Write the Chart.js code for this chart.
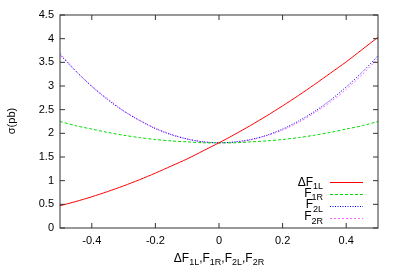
<!DOCTYPE html>
<html>
<head>
<meta charset="utf-8">
<script src="https://cdn.jsdelivr.net/npm/chart.js@4/dist/chart.umd.min.js"></script>
<style>
  body { margin: 0; background: #fff; }
  #wrap { width: 400px; height: 280px; }
</style>
</head>
<body>
<div id="wrap"><canvas id="myChart" width="400" height="280"></canvas></div>
<script>
// values
const xs = [-0.5, -0.45, -0.4, -0.35, -0.3, -0.25, -0.2, -0.15, -0.1, -0.05, 0,
            0.05, 0.1, 0.15, 0.2, 0.25, 0.3, 0.35, 0.4, 0.45, 0.5]
const dF1L = [0.47, 0.56, 0.66, 0.77, 0.89, 1.02, 1.16, 1.31, 1.46, 1.63, 1.80,
              1.98, 2.17, 2.37, 2.58, 2.80, 3.03, 3.27, 3.51, 3.77, 4.03]
const F1R = [2.25, 2.16, 2.09, 2.02, 1.96, 1.91, 1.87, 1.84, 1.82, 1.80, 1.80,
             1.80, 1.82, 1.84, 1.87, 1.91, 1.96, 2.02, 2.09, 2.16, 2.25]
const F2L = [3.66, 3.31, 2.99, 2.71, 2.47, 2.27, 2.10, 1.97, 1.88, 1.82, 1.80,
             1.82, 1.87, 1.96, 2.09, 2.26, 2.46, 2.70, 2.98, 3.29, 3.64]
const F2R = [3.69, 3.32, 3.00, 2.73, 2.48, 2.28, 2.11, 1.98, 1.88, 1.82, 1.80,
             1.81, 1.86, 1.95, 2.07, 2.23, 2.43, 2.66, 2.93, 3.24, 3.58]
const xTicks = [-0.4, -0.2, 0, 0.2, 0.4]
const yTicks = [0, 0.5, 1, 1.5, 2, 2.5, 3, 3.5, 4, 4.5]

// label pieces: [main, subscript]
const seriesNames = [
    [["\u0394F", "1L"]],
    [["F", "1R"]],
    [["F", "2L"]],
    [["F", "2R"]]
]
const xTitle = [["\u0394F", "1L"], [",F", "1R"], [",F", "2L"], [",F", "2R"]]
const yTitle = "\u03c3(pb)"

const FONT = "Liberation Sans, Arial, sans-serif"

function pts(ys) {
    return xs.map((x, i) => ({ x: x, y: ys[i] }))
}

function line(label, ys, color, dash) {
    return {
        label: label,
        data: pts(ys),
        borderColor: color,
        backgroundColor: color,
        borderWidth: 1,
        borderDash: dash,
        pointRadius: 0,
        tension: 0.3,
        fill: false
    }
}

// draw "main" + smaller subscript runs, returns width
function subText(ctx, parts, x, y, size, measureOnly) {
    let w = 0
    parts.forEach(p => {
        ctx.font = size + "px " + FONT
        if (!measureOnly) ctx.fillText(p[0], x + w, y)
        w += ctx.measureText(p[0]).width
        ctx.font = Math.round(size * 0.75) + "px " + FONT
        if (!measureOnly) ctx.fillText(p[1], x + w, y + 3.5)
        w += ctx.measureText(p[1]).width
    })
    return w
}

const frame = {
    id: "frame",
    afterDraw(chart) {
        const ctx = chart.ctx
        const a = chart.chartArea
        const sx = chart.scales.x
        const sy = chart.scales.y
        ctx.save()
        ctx.strokeStyle = "#333"
        ctx.lineWidth = 1
        ctx.strokeRect(a.left, a.top, a.right - a.left, a.bottom - a.top)
        ctx.beginPath()
        const t = 5
        xTicks.forEach(v => {
            const px = sx.getPixelForValue(v)
            ctx.moveTo(px, a.bottom); ctx.lineTo(px, a.bottom - t)
            ctx.moveTo(px, a.top); ctx.lineTo(px, a.top + t)
        })
        yTicks.forEach(v => {
            const py = sy.getPixelForValue(v)
            ctx.moveTo(a.left, py); ctx.lineTo(a.left + t, py)
            ctx.moveTo(a.right, py); ctx.lineTo(a.right - t, py)
        })
        ctx.stroke()

        // legend, text right aligned, sample lines to the right
        ctx.fillStyle = "#000"
        ctx.textBaseline = "alphabetic"
        const lineY = [182.5, 194.5, 206.5, 218.5]
        const textY = [185.5, 196.5, 208, 220]
        chart.data.datasets.forEach((ds, i) => {
            const w = subText(ctx, seriesNames[i], 0, 0, 12, true)
            subText(ctx, seriesNames[i], 323 - w, textY[i], 12, false)
            ctx.beginPath()
            ctx.strokeStyle = ds.borderColor
            ctx.setLineDash(ds.borderDash || [])
            ctx.moveTo(330, lineY[i])
            ctx.lineTo(363, lineY[i])
            ctx.stroke()
        })
        ctx.setLineDash([])

        // axis titles
        const tw = subText(ctx, xTitle, 0, 0, 12, true)
        subText(ctx, xTitle, (a.left + a.right) / 2 - tw / 2, 261.5, 12, false)
        ctx.translate(15, 121)
        ctx.rotate(-Math.PI / 2)
        ctx.font = "11px " + FONT
        ctx.textAlign = "center"
        ctx.fillText(yTitle, 0, 0)
        ctx.restore()
    }
}

const myChart = new Chart(document.getElementById("myChart").getContext("2d"), {
    type: "line",
    data: {
        datasets: [
            line("\u0394F1L", dF1L, "#ff0000", []),
            line("F1R", F1R, "#00dd00", [3, 2]),
            line("F2L", F2L, "#0000ff", [1, 1.5]),
            line("F2R", F2R, "#ff66ff", [2, 2])
        ]
    },
    options: {
        responsive: false,
        animation: false,
        layout: { padding: { left: 0, right: 22, top: 15, bottom: 0 } },
        plugins: { legend: { display: false }, tooltip: { enabled: false } },
        scales: {
            x: {
                type: "linear",
                min: -0.5,
                max: 0.5,
                afterBuildTicks: s => { s.ticks = xTicks.map(v => ({ value: v })) },
                afterFit: s => { s.height = 52 },
                grid: { display: false, drawTicks: false, tickLength: 0 },
                border: { display: false },
                ticks: {
                    padding: 6,
                    maxRotation: 0,
                    color: "#000",
                    font: { family: FONT, size: 11 },
                    callback: v => String(v)
                }
            },
            y: {
                min: 0,
                max: 4.5,
                afterBuildTicks: s => { s.ticks = yTicks.map(v => ({ value: v })) },
                afterFit: s => { s.width = 60 },
                grid: { display: false, drawTicks: false, tickLength: 0 },
                border: { display: false },
                ticks: {
                    padding: 6,
                    color: "#000",
                    font: { family: FONT, size: 11 },
                    callback: v => String(v)
                }
            }
        }
    },
    plugins: [frame]
});
</script>
</body>
</html>
